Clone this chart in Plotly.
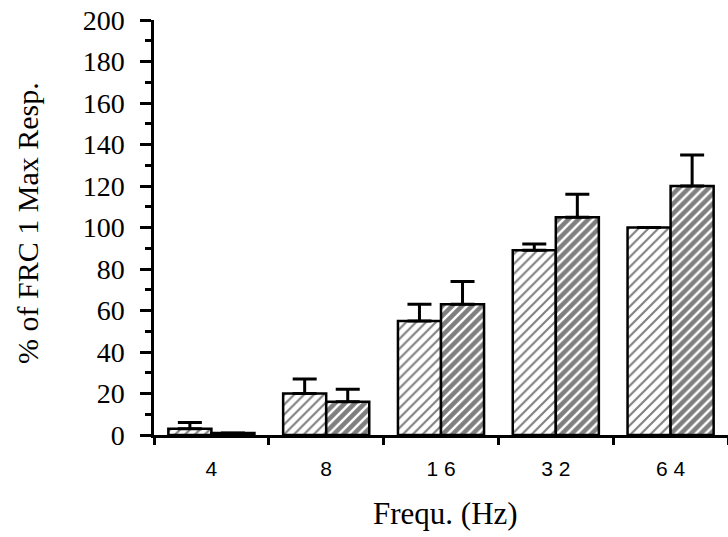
import plotly.graph_objects as go

categories = ["4", "8", "16", "32", "64"]
frc1_values = [3, 20, 55, 89, 100]
frc1_err = [3, 7, 8, 3, 0]
frc2_values = [1, 16, 63, 105, 120]
frc2_err = [0, 6, 11, 11, 15]
y_ticks = list(range(0, 201, 20))

# spaced digits, as printed on the original axis
x_ticktext = [" ".join(c) for c in categories]

fig = go.Figure()
fig.add_trace(go.Bar(
    x=categories, y=frc1_values,
    marker=dict(color="white", line=dict(color="black", width=2.5),
                pattern=dict(shape="/", fgcolor="black", bgcolor="white", size=7, solidity=0.3)),
    error_y=dict(type="data", symmetric=False, array=frc1_err, arrayminus=[0]*5,
                 color="black", thickness=3, width=12),
    showlegend=False, hoverinfo="skip",
))
fig.add_trace(go.Bar(
    x=categories, y=frc2_values,
    marker=dict(color="white", line=dict(color="black", width=2.5),
                pattern=dict(shape="/", fgcolor="black", bgcolor="white", size=7, solidity=0.65)),
    error_y=dict(type="data", symmetric=False, array=frc2_err, arrayminus=[0]*5,
                 color="black", thickness=3, width=12),
    showlegend=False, hoverinfo="skip",
))

fig.update_layout(
    width=728, height=537,
    margin=dict(l=154, r=0, t=20, b=102),
    paper_bgcolor="white", plot_bgcolor="white",
    barmode="group", bargap=0.25, bargroupgap=0,
    font=dict(family="Liberation Serif", color="black"),
)
fig.update_xaxes(
    type="category", range=[-0.5, 4.5], automargin=False,
    tickvals=categories, ticktext=x_ticktext,
    showline=True, linecolor="black", linewidth=2.5,
    ticks="outside", tickson="boundaries", ticklen=7, tickwidth=2.5, tickcolor="black",
    tickfont=dict(family="Liberation Sans", size=21), ticklabelstandoff=13,
    showgrid=False, zeroline=False,
)
fig.update_yaxes(
    range=[0, 200], tickvals=y_ticks, automargin=False, ticklabeloverflow="allow",
    showline=True, linecolor="black", linewidth=2.5,
    ticks="outside", ticklen=11, tickwidth=2.5, tickcolor="black",
    tickfont=dict(family="Liberation Serif", size=28), ticklabelstandoff=10,
    minor=dict(dtick=10, ticks="outside", ticklen=6, tickwidth=2.5, tickcolor="black", showgrid=False),
    showgrid=False, zeroline=False,
)
fig.add_annotation(
    text="% of FRC 1 Max Resp.", textangle=-90,
    xref="paper", yref="paper", x=-0.2195, y=0.511, xanchor="center", yanchor="middle",
    showarrow=False, font=dict(family="Liberation Serif", size=30),
)
fig.add_annotation(
    text="Frequ. (Hz)",
    xref="paper", yref="paper", x=0.507, y=-0.188, xanchor="center", yanchor="middle",
    showarrow=False, font=dict(family="Liberation Serif", size=31),
)

fig.write_html("out.html", config={"displayModeBar": False},
               post_script="document.body.style.margin='0';")
